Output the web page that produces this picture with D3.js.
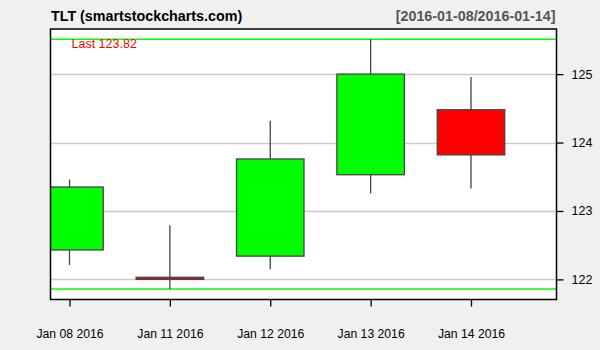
<!DOCTYPE html>
<html>
<head>
<meta charset="utf-8">
<script src="https://cdn.jsdelivr.net/npm/d3@7"></script>
<style>
  body { margin: 0; background: #f0f0f0; }
  svg { display: block; font-family: "Liberation Sans", Arial, sans-serif; }
</style>
</head>
<body>
<div id="chart"></div>
<script>
// OHLC data
const dates = ["Jan 08 2016", "Jan 11 2016", "Jan 12 2016", "Jan 13 2016", "Jan 14 2016"];
const opens = [122.43, 122.03, 122.34, 123.53, 124.48];
const highs = [123.46, 122.79, 124.32, 125.51, 124.96];
const lows = [122.21, 121.86, 122.15, 123.26, 123.33];
const closes = [123.35, 122.00, 123.76, 125.00, 123.82];
const yTicks = [122, 123, 124, 125];

const data = dates.map((d, i) => ({date: d, open: opens[i], high: highs[i], low: lows[i], close: closes[i]}));

const width = 600, height = 350;
const plot = {left: 50.5, right: 556.5, top: 29, bottom: 299.5};

const svg = d3.select("#chart")
    .append("svg")
    .attr("width", width)
    .attr("height", height);

svg.append("rect")
    .attr("width", width).attr("height", height)
    .attr("fill", "#f0f0f0");

// Scales
const x = d3.scalePoint()
    .domain(dates)
    .range([69.5, 471]);

const y = d3.scaleLinear()
    .domain([121.706, 125.66])
    .range([plot.bottom, plot.top]);

const bodyWidth = 67.5;

// Plot background
svg.append("rect")
    .attr("x", plot.left).attr("y", plot.top)
    .attr("width", plot.right - plot.left)
    .attr("height", plot.bottom - plot.top)
    .attr("fill", "#fff");

svg.append("clipPath").attr("id", "clip")
    .append("rect")
    .attr("x", plot.left).attr("y", plot.top)
    .attr("width", plot.right - plot.left)
    .attr("height", plot.bottom - plot.top);

const g = svg.append("g").attr("clip-path", "url(#clip)");

// Grid lines
g.selectAll("line.grid")
    .data(yTicks)
    .join("line")
    .attr("class", "grid")
    .attr("x1", plot.left).attr("x2", plot.right)
    .attr("y1", d => Math.round(y(d)) + 0.5)
    .attr("y2", d => Math.round(y(d)) + 0.5)
    .attr("stroke", "#cccccc")
    .attr("stroke-width", 1.3);

// High / low range lines
const maxHigh = d3.max(highs), minLow = d3.min(lows);
g.selectAll("line.range")
    .data([maxHigh, minLow])
    .join("line")
    .attr("class", "range")
    .attr("x1", plot.left).attr("x2", plot.right)
    .attr("y1", d => y(d)).attr("y2", d => y(d))
    .attr("stroke", "#00ff00")
    .attr("stroke-width", 1.4);

// Wicks
g.selectAll("line.wick")
    .data(data)
    .join("line")
    .attr("class", "wick")
    .attr("x1", d => x(d.date)).attr("x2", d => x(d.date))
    .attr("y1", d => y(d.high)).attr("y2", d => y(d.low))
    .attr("stroke", "#444")
    .attr("stroke-width", 1.3);

// Bodies
g.selectAll("rect.body")
    .data(data)
    .join("rect")
    .attr("class", "body")
    .attr("x", d => x(d.date) - bodyWidth / 2)
    .attr("width", bodyWidth)
    .attr("y", d => y(Math.max(d.open, d.close)))
    .attr("height", d => Math.max(1.5, y(Math.min(d.open, d.close)) - y(Math.max(d.open, d.close))))
    .attr("fill", d => d.close >= d.open ? "#00ff00" : "#ff0000")
    .attr("stroke", "#444")
    .attr("stroke-width", 1.3);

// Frame
svg.append("rect")
    .attr("x", plot.left).attr("y", plot.top)
    .attr("width", plot.right - plot.left)
    .attr("height", plot.bottom - plot.top)
    .attr("fill", "none")
    .attr("stroke", "#000")
    .attr("stroke-width", 1.5);

// Right y axis
const yAxis = d3.axisRight(y)
    .tickValues(yTicks)
    .tickSize(7)
    .tickPadding(8)
    .tickFormat(d3.format("d"));

const yAxisG = svg.append("g")
    .attr("transform", `translate(${plot.right},0)`)
    .call(yAxis);
yAxisG.select(".domain").remove();
yAxisG.selectAll("line").attr("stroke", "#000").attr("stroke-width", 1.3);
yAxisG.selectAll("text").attr("font-size", 12.5).attr("fill", "#000")
    .attr("font-family", "Liberation Sans, Arial, sans-serif");

// Bottom x axis
const xAxis = d3.axisBottom(x)
    .tickSize(7)
    .tickPadding(23);

const xAxisG = svg.append("g")
    .attr("transform", `translate(0,${plot.bottom})`)
    .call(xAxis);
xAxisG.select(".domain").remove();
xAxisG.selectAll("line").attr("stroke", "#000").attr("stroke-width", 1.3);
xAxisG.selectAll("text").attr("font-size", 12.2).attr("fill", "#000")
    .attr("font-family", "Liberation Sans, Arial, sans-serif");

// Titles
svg.append("text")
    .attr("x", 51).attr("y", 20.5)
    .attr("font-size", 14.3).attr("font-weight", "bold")
    .attr("fill", "#000")
    .text("TLT (smartstockcharts.com)");

svg.append("text")
    .attr("x", 555.5).attr("y", 20.5)
    .attr("text-anchor", "end")
    .attr("font-size", 14.3).attr("font-weight", "bold")
    .attr("fill", "#555")
    .text("[2016-01-08/2016-01-14]");

svg.append("text")
    .attr("x", 71.5).attr("y", 47.5)
    .attr("font-size", 12.5)
    .attr("fill", "#ff0000")
    .text("Last " + closes[closes.length - 1].toFixed(2));
</script>
</body>
</html>
